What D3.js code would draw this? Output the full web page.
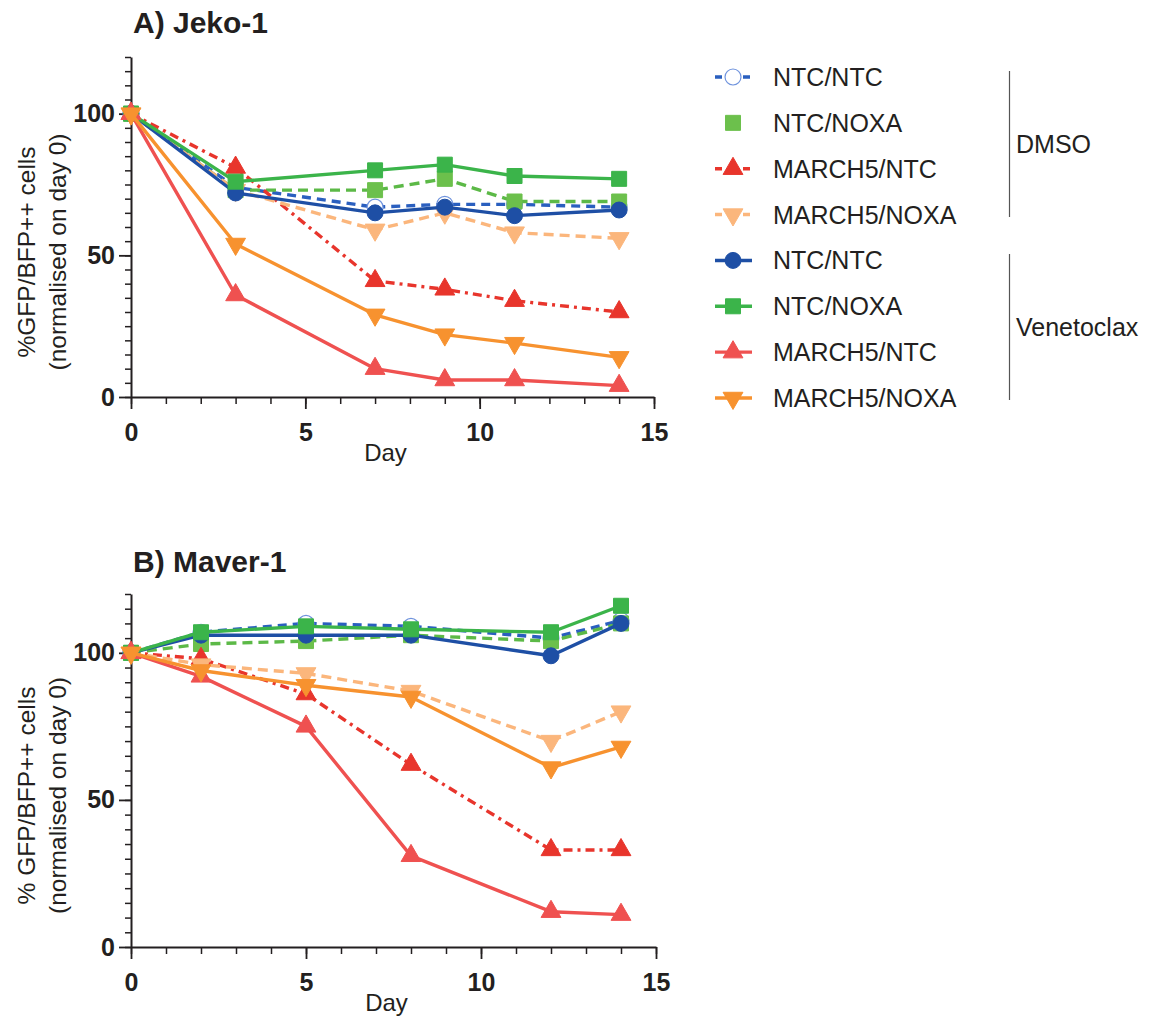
<!DOCTYPE html>
<html>
<head>
<meta charset="utf-8">
<script src="https://cdn.jsdelivr.net/npm/d3@7"></script>
<style>
  html, body { margin: 0; padding: 0; background: #fff; }
  svg { display: block; font-family: "Liberation Sans", Arial, sans-serif; }
</style>
</head>
<body>
<svg id="chart" width="1153" height="1018"></svg>
<script>
// ---- Data -------------------------------------------------------------
const conditions = ["NTC/NTC", "NTC/NOXA", "MARCH5/NTC", "MARCH5/NOXA"];
const treatments = ["DMSO", "Venetoclax"];
const xTicks = [0, 5, 10, 15];
const yTicks = [0, 50, 100];

// Jeko-1
const jekoDays = [0, 3, 7, 9, 11, 14];
const jekoDmsoNtcNtc    = [100, 74, 67, 68, 68, 67];
const jekoDmsoNtcNoxa   = [100, 73, 73, 77, 69, 69];
const jekoDmsoMarchNtc  = [100, 81, 41, 38, 34, 30];
const jekoDmsoMarchNoxa = [100, 73, 59, 65, 58, 56];
const jekoVenNtcNtc     = [100, 72, 65, 67, 64, 66];
const jekoVenNtcNoxa    = [100, 76, 80, 82, 78, 77];
const jekoVenMarchNtc   = [100, 36, 10, 6, 6, 4];
const jekoVenMarchNoxa  = [100, 54, 29, 22, 19, 14];

// Maver-1
const maverDays = [0, 2, 5, 8, 12, 14];
const maverDmsoNtcNtc    = [100, 107, 110, 109, 105, 111];
const maverDmsoNtcNoxa   = [100, 103, 104, 106, 104, 110];
const maverDmsoMarchNtc  = [100, 98, 86, 62, 33, 33];
const maverDmsoMarchNoxa = [100, 96, 93, 87, 70, 80];
const maverVenNtcNtc     = [100, 106, 106, 106, 99, 110];
const maverVenNtcNoxa    = [100, 107, 109, 108, 107, 116];
const maverVenMarchNtc   = [100, 92, 75, 31, 12, 11];
const maverVenMarchNoxa  = [100, 94, 89, 85, 61, 68];

// ---- Styles -----------------------------------------------------------
const axisColor = "#231f20";
const styles = [
  // DMSO
  { color: "#2a5fbf", dash: "9,6",     shape: "circle",   open: true,  markerFill: "#fff", markerStroke: "#6f93dd" },
  { color: "#5cb947", dash: "10,6",    shape: "square",   open: false, markerFill: "#6cc04c", markerStroke: "#6cc04c" },
  { color: "#e8352c", dash: "9,5,3,5", shape: "triangle", open: false, markerFill: "#e8352c", markerStroke: "#e8352c" },
  { color: "#fbb67c", dash: "10,6",    shape: "tridown",  open: false, markerFill: "#fbb67c", markerStroke: "#fbb67c" },
  // Venetoclax
  { color: "#1e4fa5", dash: null, shape: "circle",   open: false, markerFill: "#1e4fa5", markerStroke: "#1e4fa5" },
  { color: "#3bb44a", dash: null, shape: "square",   open: false, markerFill: "#3bb44a", markerStroke: "#3bb44a" },
  { color: "#ef5150", dash: null, shape: "triangle", open: false, markerFill: "#ef5150", markerStroke: "#ef5150" },
  { color: "#f7922f", dash: null, shape: "tridown",  open: false, markerFill: "#f7922f", markerStroke: "#f7922f" }
];

const symbolMap = {
  circle: d3.symbolCircle,
  square: d3.symbolSquare,
  triangle: d3.symbolTriangle,
  tridown: d3.symbolTriangle
};
const symbolSize = { circle: 200, square: 225, triangle: 170, tridown: 170 };

const svg = d3.select("#chart");

function drawMarker(sel, st) {
  sel.append("path")
    .attr("d", d3.symbol().type(symbolMap[st.shape]).size(symbolSize[st.shape])())
    .attr("transform", st.shape === "tridown" ? "rotate(180)" : null)
    .attr("fill", st.markerFill)
    .attr("stroke", st.markerStroke)
    .attr("stroke-width", st.open ? 1.2 : 1);
}

function drawPanel(cfg) {
  const x = d3.scaleLinear().domain([0, 15]).range([cfg.left, cfg.right]);
  const y = d3.scaleLinear().domain([0, 120]).range([cfg.bottom, cfg.top]);
  const g = svg.append("g");

  // title
  g.append("text")
    .attr("x", cfg.left + 2).attr("y", cfg.titleY)
    .attr("font-size", 30).attr("font-weight", "bold").attr("fill", axisColor)
    .text(cfg.title);

  // minor ticks
  g.append("g").attr("transform", `translate(${cfg.left},0)`)
    .call(d3.axisLeft(y).tickValues(d3.range(0, 121, 5)).tickSize(6).tickFormat(""))
    .call(a => a.select(".domain").remove())
    .call(a => a.selectAll("line").attr("stroke", axisColor).attr("stroke-width", 1.5));
  g.append("g").attr("transform", `translate(0,${cfg.bottom})`)
    .call(d3.axisBottom(x).tickValues(d3.range(0, 16, 1)).tickSize(7).tickFormat(""))
    .call(a => a.select(".domain").remove())
    .call(a => a.selectAll("line").attr("stroke", axisColor).attr("stroke-width", 1.5));

  // major ticks + labels
  const ya = g.append("g").attr("transform", `translate(${cfg.left},0)`)
    .call(d3.axisLeft(y).tickValues(yTicks).tickSize(12).tickPadding(4).tickSizeOuter(0));
  ya.select(".domain").attr("stroke", axisColor).attr("stroke-width", 2);
  ya.selectAll("line").attr("stroke", axisColor).attr("stroke-width", 1.8);
  ya.selectAll("text").attr("font-size", 25).attr("font-weight", "bold")
    .attr("fill", axisColor).attr("font-family", "Liberation Sans, Arial, sans-serif");

  const xa = g.append("g").attr("transform", `translate(0,${cfg.bottom})`)
    .call(d3.axisBottom(x).tickValues(xTicks).tickSize(12).tickPadding(14).tickSizeOuter(0));
  xa.select(".domain").attr("stroke", axisColor).attr("stroke-width", 2);
  xa.selectAll("line").attr("stroke", axisColor).attr("stroke-width", 1.8);
  xa.selectAll("text").attr("font-size", 25).attr("font-weight", "bold")
    .attr("fill", axisColor).attr("font-family", "Liberation Sans, Arial, sans-serif");

  // axis titles
  g.append("text")
    .attr("x", (cfg.left + cfg.right) / 2 - 7).attr("y", cfg.bottom + 64)
    .attr("text-anchor", "middle").attr("font-size", 24).attr("fill", axisColor)
    .text("Day");
  const cy = (cfg.top + cfg.bottom) / 2 + 25;
  const yl = g.append("text")
    .attr("transform", `translate(0,${cy}) rotate(-90)`)
    .attr("text-anchor", "middle").attr("font-size", 24.5).attr("fill", axisColor);
  yl.append("tspan").attr("x", 0).attr("y", 35).text(cfg.yLabel);
  yl.append("tspan").attr("x", 0).attr("y", 66).text("(normalised on day 0)");

  // series
  const line = d3.line().x(d => x(d.day)).y(d => y(d.v));
  cfg.series.forEach((vals, i) => {
    const st = styles[i];
    const pts = cfg.days.map((d, k) => ({ day: d, v: vals[k] }));
    const sg = g.append("g");
    sg.append("path").datum(pts)
      .attr("d", line)
      .attr("fill", "none")
      .attr("stroke", st.color)
      .attr("stroke-width", 3.4)
      .attr("stroke-dasharray", st.dash)
      .attr("stroke-linejoin", "round");
    sg.selectAll("g.pt").data(pts).join("g")
      .attr("class", "pt")
      .attr("transform", d => `translate(${x(d.day)},${y(d.v)})`)
      .each(function () { drawMarker(d3.select(this), st); });
  });
}

drawPanel({
  title: "A) Jeko-1", titleY: 33,
  left: 131, right: 654, top: 57, bottom: 397,
  yLabel: "%GFP/BFP++ cells",
  days: jekoDays,
  series: [jekoDmsoNtcNtc, jekoDmsoNtcNoxa, jekoDmsoMarchNtc, jekoDmsoMarchNoxa,
           jekoVenNtcNtc, jekoVenNtcNoxa, jekoVenMarchNtc, jekoVenMarchNoxa]
});

drawPanel({
  title: "B) Maver-1", titleY: 572,
  left: 131, right: 656, top: 594, bottom: 947,
  yLabel: "% GFP/BFP++ cells",
  days: maverDays,
  series: [maverDmsoNtcNtc, maverDmsoNtcNoxa, maverDmsoMarchNtc, maverDmsoMarchNoxa,
           maverVenNtcNtc, maverVenNtcNoxa, maverVenMarchNtc, maverVenMarchNoxa]
});

// ---- Legend -----------------------------------------------------------
const legend = svg.append("g");
const legendY = d3.scaleLinear().domain([0, 7]).range([77, 398]);
styles.forEach((st, i) => {
  const row = legend.append("g").attr("transform", `translate(0,${legendY(i)})`);
  if (i !== 1) {
    row.append("line")
      .attr("x1", 715).attr("x2", 752).attr("y1", 0).attr("y2", 0)
      .attr("stroke", st.color).attr("stroke-width", 3.4)
      .attr("stroke-dasharray", st.dash ? "7,9,3,9" : null);
  }
  const m = row.append("g").attr("transform", "translate(733,0)");
  drawMarker(m, st);
  row.append("text")
    .attr("x", 773).attr("y", 9)
    .attr("font-size", 25).attr("fill", axisColor)
    .text(conditions[i % 4]);
});

// treatment brackets
[[71, 217], [254, 400]].forEach((span, j) => {
  legend.append("line")
    .attr("x1", 1009.5).attr("x2", 1009.5).attr("y1", span[0]).attr("y2", span[1])
    .attr("stroke", "#555").attr("stroke-width", 1.2);
  legend.append("text")
    .attr("x", 1016).attr("y", (span[0] + span[1]) / 2 + 9)
    .attr("font-size", 25).attr("fill", axisColor)
    .text(treatments[j]);
});
</script>
</body>
</html>
